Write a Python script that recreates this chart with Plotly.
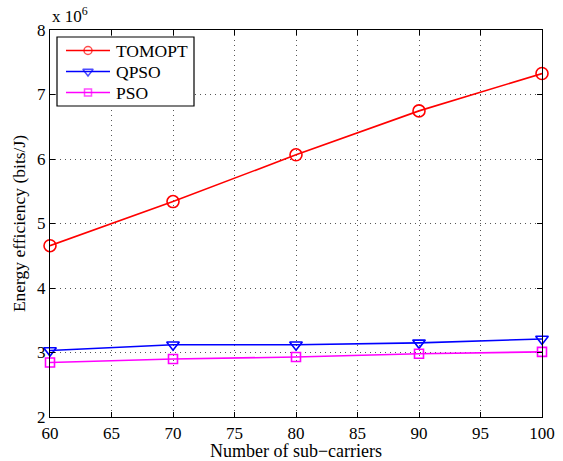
import plotly.graph_objects as go

# Number of sub-carriers
subcarriers = [60, 70, 80, 90, 100]

# Energy efficiency (x 10^6 bits/J)
tomopt = [4.656, 5.34, 6.065, 6.746, 7.325]
qpso = [3.03, 3.12, 3.12, 3.15, 3.21]
pso = [2.846, 2.90, 2.93, 2.98, 3.01]

series_names = ["TOMOPT", "QPSO", "PSO"]
x_ticks = [60, 65, 70, 75, 80, 85, 90, 95, 100]
y_ticks = [2, 3, 4, 5, 6, 7, 8]
x_range = [60, 100]
y_range = [2, 8]

FONT = "Times New Roman, Liberation Serif, serif"

W, H = 563, 461
M = dict(l=50, r=21, t=30, b=44)
PW = W - M["l"] - M["r"]   # plot area width in px
PH = H - M["t"] - M["b"]   # plot area height in px


def px_to_x(px):
    """Horizontal pixel offset from the left of the plot area -> x value."""
    return x_range[0] + px / PW * (x_range[1] - x_range[0])


def px_to_y(py):
    """Vertical pixel offset from the top of the plot area -> y value."""
    return y_range[1] - py / PH * (y_range[1] - y_range[0])


styles = [
    dict(color="#ff0000", symbol="circle-open", size=12, lsize=8),
    dict(color="#0000ff", symbol="triangle-down-open", size=11, lsize=9),
    dict(color="#ff00ff", symbol="square-open", size=9, lsize=7),
]

fig = go.Figure()
for name, values, st in zip(series_names, [tomopt, qpso, pso], styles):
    fig.add_trace(go.Scatter(
        x=subcarriers, y=values, name=name, mode="lines+markers", showlegend=False,
        line=dict(color=st["color"], width=1.6),
        marker=dict(symbol=st["symbol"], size=st["size"], color=st["color"],
                    line=dict(width=1.6)),
        cliponaxis=False,
    ))

# Boxed key in the upper-left corner, laid out in pixels of the plot area
box = dict(x0=7, x1=144, y0=7, y1=76)
row_y = [20.5, 41.5, 62.5]
seg_x = [16, 38, 60]
text_x = 64

fig.add_shape(type="rect", xref="x", yref="y", layer="between",
              x0=px_to_x(box["x0"]), x1=px_to_x(box["x1"]),
              y0=px_to_y(box["y0"]), y1=px_to_y(box["y1"]),
              fillcolor="white", line=dict(color="black", width=1.2))
for name, ry, st in zip(series_names, row_y, styles):
    fig.add_trace(go.Scatter(
        x=[px_to_x(p) for p in seg_x], y=[px_to_y(ry)] * 3, mode="lines+markers",
        showlegend=False, hoverinfo="skip",
        line=dict(color=st["color"], width=1.6),
        marker=dict(symbol=st["symbol"], size=[0, st["lsize"], 0], color=st["color"],
                    line=dict(width=1.5)),
    ))
    fig.add_annotation(
        text=name, xref="x", yref="y", x=px_to_x(text_x), y=px_to_y(ry + 0.5),
        xanchor="left", yanchor="middle", showarrow=False,
        font=dict(family=FONT, size=17.5, color="black"),
    )

axis_common = dict(
    showline=True, linecolor="black", linewidth=1.2, mirror="allticks",
    ticks="inside", ticklen=5, tickcolor="black",
    showgrid=True, gridcolor="#555555", griddash="1px,4px", gridwidth=1,
    zeroline=False, automargin=False,
    tickfont=dict(family=FONT, size=17, color="black"),
)

fig.update_layout(
    width=W, height=H,
    margin=M,
    paper_bgcolor="white", plot_bgcolor="white",
    font=dict(family=FONT, size=17, color="black"),
    showlegend=False,
    xaxis=dict(
        range=x_range, tickvals=x_ticks,
        title=dict(text="Number of sub\u2212carriers", font=dict(family=FONT, size=18), standoff=0),
        **axis_common,
    ),
    yaxis=dict(
        range=y_range, tickvals=y_ticks,
        title=dict(text="Energy efficiency (bits/J)", font=dict(family=FONT, size=17.5), standoff=6),
        **axis_common,
    ),
)

fig.add_annotation(
    text="x 10<sup>6</sup>", xref="paper", yref="paper",
    x=0.0, y=1.0, xanchor="left", yanchor="bottom", yshift=2,
    showarrow=False, font=dict(family=FONT, size=17, color="black"),
)

fig.write_html("out.html")
